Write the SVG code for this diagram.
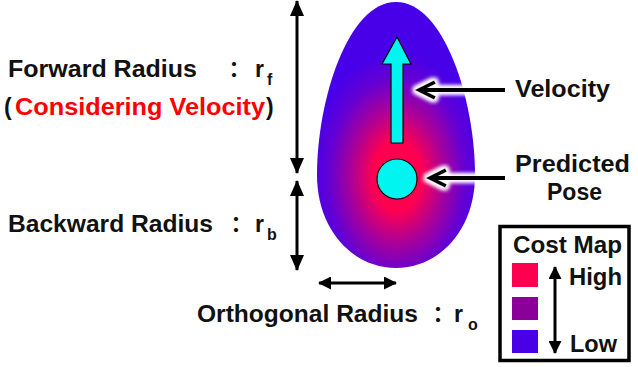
<svg xmlns="http://www.w3.org/2000/svg" width="638" height="367" viewBox="0 0 638 367">
<style>
.t{font-family:"Liberation Sans",Arial,sans-serif;font-weight:700;font-size:23px;fill:#111}
.s{font-family:"Liberation Sans",Arial,sans-serif;font-weight:700;font-size:16px;fill:#111}
.c{font-family:"Noto Sans CJK JP",sans-serif;font-weight:700;font-size:22px;fill:#111}
.red{fill:#ff0000}
.dim{stroke:#000;stroke-width:3;fill:none;marker-start:url(#ah);marker-end:url(#ah)}
.ptr{stroke:#000;stroke-width:4;fill:none;stroke-linecap:butt;stroke-linejoin:miter}
</style>
<defs>
<marker id="ah" viewBox="0 0 16 14" refX="15" refY="7" markerWidth="16" markerHeight="14" markerUnits="userSpaceOnUse" orient="auto-start-reverse">
<path d="M0,0 L16,7 L0,14 Z" fill="#000"/>
</marker>
<marker id="ahs" viewBox="0 0 13 13" refX="12" refY="6.5" markerWidth="13" markerHeight="13" markerUnits="userSpaceOnUse" orient="auto-start-reverse">
<path d="M0,0 L13,6.5 L0,13 Z" fill="#000"/>
</marker>
<radialGradient id="cost" gradientUnits="userSpaceOnUse" cx="397" cy="176" r="85" gradientTransform="translate(397 176) scale(1 1.45) translate(-397 -176)">
<stop offset="0" stop-color="#ff0050"/>
<stop offset="0.28" stop-color="#ff0050"/>
<stop offset="0.55" stop-color="#a8009a"/>
<stop offset="0.8" stop-color="#6400d4"/>
<stop offset="1" stop-color="#4800e8"/>
</radialGradient>
<filter id="glow" x="-20%" y="-50%" width="140%" height="200%">
<feMorphology in="SourceAlpha" operator="dilate" radius="2" result="d"/>
<feGaussianBlur in="d" stdDeviation="2" result="b"/>
<feFlood flood-color="#fff"/>
<feComposite in2="b" operator="in" result="w"/>
<feMerge><feMergeNode in="w"/><feMergeNode in="w"/><feMergeNode in="SourceGraphic"/></feMerge>
</filter>
</defs>

<g id="costmap">
<path d="M396,2 C444,2 475,100 475,175 C475,230 439,268 396,268 C353,268 317,230 317,175 C317,100 348,2 396,2 Z" fill="url(#cost)"/>
</g>

<g id="velocity-arrow">
<path d="M391,143 L391,64 L382,64 L397,37 L411,64 L403,64 L403,143 Z" fill="#00f5f0" stroke="#000" stroke-width="1.2"/>
</g>

<g id="predicted-pose">
<circle cx="397" cy="179" r="20" fill="#00f5f0" stroke="#000" stroke-width="1.2"/>
</g>

<g id="connectors">
<line class="dim" x1="297" y1="1" x2="297" y2="173"/>
<line class="dim" x1="297" y1="181" x2="297" y2="270"/>
<line class="dim" x1="319" y1="283" x2="396" y2="283" style="marker-start:url(#ahs);marker-end:url(#ahs)"/>
<g filter="url(#glow)">
<path class="ptr" d="M505,90 L420,90 M435,82 L419,90 L435,98"/>
<path class="ptr" d="M505,178 L430,178 M446,170 L430,178 L446,186"/>
</g>
</g>

<g id="label-forward">
<text class="t" x="8" y="77" textLength="189" lengthAdjust="spacingAndGlyphs">Forward Radius</text>
<text class="c" x="223" y="77">：</text>
<text class="t" x="255" y="77">r</text>
<text class="s" x="267" y="85">f</text>
<text class="t" x="4" y="115">(</text>
<text class="t red" x="15" y="115" textLength="250" lengthAdjust="spacingAndGlyphs">Considering Velocity</text>
<text class="t" x="266" y="115">)</text>
</g>

<g id="label-backward">
<text class="t" x="8" y="232" textLength="205" lengthAdjust="spacingAndGlyphs">Backward Radius</text>
<text class="c" x="225" y="232">：</text>
<text class="t" x="255" y="232">r</text>
<text class="s" x="267" y="240">b</text>
</g>

<g id="label-orthogonal">
<text class="t" x="197" y="322" textLength="221" lengthAdjust="spacingAndGlyphs">Orthogonal Radius</text>
<text class="c" x="427" y="322">：</text>
<text class="t" x="454" y="322">r</text>
<text class="s" x="468" y="330">o</text>
</g>

<g id="label-velocity">
<text class="t" x="515" y="97" textLength="95" lengthAdjust="spacingAndGlyphs">Velocity</text>
</g>

<g id="label-pose">
<text class="t" x="515" y="172" textLength="115" lengthAdjust="spacingAndGlyphs">Predicted</text>
<text class="t" x="547" y="200" textLength="55" lengthAdjust="spacingAndGlyphs">Pose</text>
</g>

<g id="legend">
<rect x="500" y="226.5" width="129" height="134" fill="#fff" stroke="#000" stroke-width="3.5"/>
<text class="t" x="513" y="253" textLength="109" lengthAdjust="spacingAndGlyphs">Cost Map</text>
<rect x="512" y="263" width="26" height="24" fill="#ff0050"/>
<rect x="512" y="297" width="26" height="23" fill="#8a0099"/>
<rect x="512" y="330" width="26" height="23" fill="#4a00e6"/>
<line class="dim" x1="555" y1="267" x2="555" y2="353" style="marker-start:url(#ahs);marker-end:url(#ahs)"/>
<text class="t" x="569" y="285" textLength="53" lengthAdjust="spacingAndGlyphs">High</text>
<text class="t" x="570" y="352" textLength="47" lengthAdjust="spacingAndGlyphs">Low</text>
</g>
</svg>
